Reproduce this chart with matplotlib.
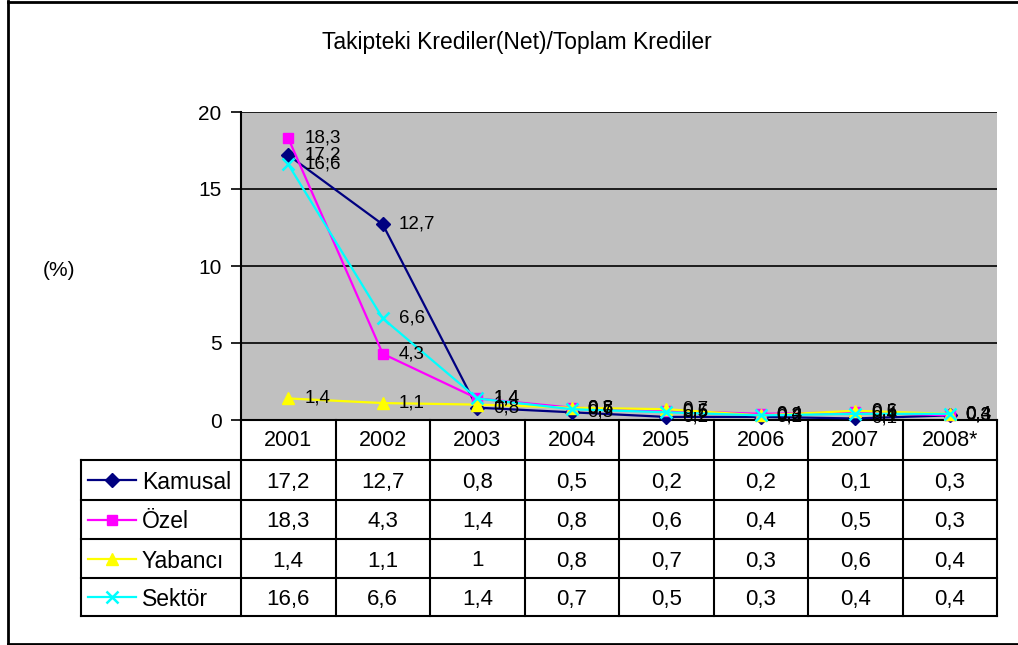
import matplotlib.pyplot as plt
from matplotlib.lines import Line2D

plt.rcParams['font.family'] = ['Liberation Sans', 'DejaVu Sans']

years = ['2001', '2002', '2003', '2004', '2005', '2006', '2007', '2008*']
kamusal = [17.2, 12.7, 0.8, 0.5, 0.2, 0.2, 0.1, 0.3]
ozel = [18.3, 4.3, 1.4, 0.8, 0.6, 0.4, 0.5, 0.3]
yabanci = [1.4, 1.1, 1.0, 0.8, 0.7, 0.3, 0.6, 0.4]
sektor = [16.6, 6.6, 1.4, 0.7, 0.5, 0.3, 0.4, 0.4]

series_names = ['Kamusal', 'Özel', 'Yabancı', 'Sektör']
series_values = [kamusal, ozel, yabanci, sektor]
colors = ['#000080', '#FF00FF', '#FFFF00', '#00FFFF']
markers = ['D', 's', '^', 'x']
msizes = [7, 7.5, 8, 9]

W, H = 1018, 645
fig = plt.figure(figsize=(W / 100, H / 100), dpi=100)


def fx(px):
    return px / W


def fy(py):
    return 1 - py / H


# outer frame (right edge falls off the canvas)
for xs, ys in [([8, 8], [1, 644]), ([8, 1020], [1.5, 1.5]), ([8, 1020], [643.5, 643.5])]:
    fig.add_artist(Line2D([fx(x) for x in xs], [fy(y) for y in ys], color='black', lw=2))

left, right, top, bottom = 241, 997, 112, 420
ax = fig.add_axes([fx(left), fy(bottom), fx(right - left), (bottom - top) / H])
ax.set_facecolor('#C0C0C0')
ax.set_xlim(-0.5, len(years) - 0.5)
ax.set_ylim(0, 20)
ax.set_yticks([0, 5, 10, 15, 20])
ax.set_yticklabels(['0', '5', '10', '15', '20'], fontsize=15)
ax.set_xticks([])
ax.tick_params(axis='y', direction='out', length=7, width=1.2, pad=7)
ax.yaxis.grid(True, color='black', lw=1.2)
ax.set_axisbelow(True)
for side in ['top', 'right']:
    ax.spines[side].set_visible(False)
ax.spines['left'].set_linewidth(1.5)
ax.spines['bottom'].set_linewidth(1.5)

x = list(range(len(years)))
for vals, c, m, ms in zip(series_values, colors, markers, msizes):
    ax.plot(x, vals, color=c, marker=m, markersize=ms, lw=1.6,
            markeredgecolor=c, markeredgewidth=1.8 if m == 'x' else 1, clip_on=False, zorder=3)

for vals in series_values:
    for xi, v in zip(x, vals):
        ax.annotate(f'{v:g}'.replace('.', ','), (xi, v), xytext=(11.5, 0),
                    textcoords='offset points', va='center', ha='left',
                    fontsize=13.5, color='black', zorder=4, annotation_clip=False)

fig.text(fx(517), fy(42), 'Takipteki Krediler(Net)/Toplam Krediler',
         ha='center', va='center', fontsize=16.5)
fig.text(fx(59), fy(270), '(%)', ha='center', va='center', fontsize=15)

# data table under the plot
col_w = (right - left) / len(years)
legend_left = 81
row_edges = [420, 460, 500, 539, 578, 616]
col_edges = [left + i * col_w for i in range(len(years) + 1)]


def hline(x0, x1, y):
    fig.add_artist(Line2D([fx(x0), fx(x1)], [fy(y), fy(y)], color='black', lw=1.5))


def vline(x0, y0, y1):
    fig.add_artist(Line2D([fx(x0), fx(x0)], [fy(y0), fy(y1)], color='black', lw=1.5))


for y in row_edges[1:]:
    hline(legend_left, right, y)
for xe in col_edges:
    vline(xe, row_edges[0], row_edges[-1])
vline(legend_left, row_edges[1], row_edges[-1])

for i, yr in enumerate(years):
    cx = (col_edges[i] + col_edges[i + 1]) / 2
    fig.text(fx(cx), fy((row_edges[0] + row_edges[1]) / 2), yr,
             ha='center', va='center', fontsize=15.5)

for r, (name, vals, c, m, ms) in enumerate(zip(series_names, series_values, colors, markers, msizes)):
    cy = (row_edges[r + 1] + row_edges[r + 2]) / 2
    ty = cy + 2.5
    fig.add_artist(Line2D([fx(88), fx(136)], [fy(cy), fy(cy)], color=c, lw=1.6))
    fig.add_artist(Line2D([fx(112)], [fy(cy)], color=c, marker=m, markersize=ms,
                          markeredgecolor=c, markeredgewidth=1.8 if m == 'x' else 1))
    fig.text(fx(142), fy(ty), name, ha='left', va='center', fontsize=16.5)
    for i, v in enumerate(vals):
        cx = (col_edges[i] + col_edges[i + 1]) / 2
        fig.text(fx(cx), fy(ty), f'{v:g}'.replace('.', ','), ha='center', va='center', fontsize=16)

fig.savefig('out.png', dpi=100)
